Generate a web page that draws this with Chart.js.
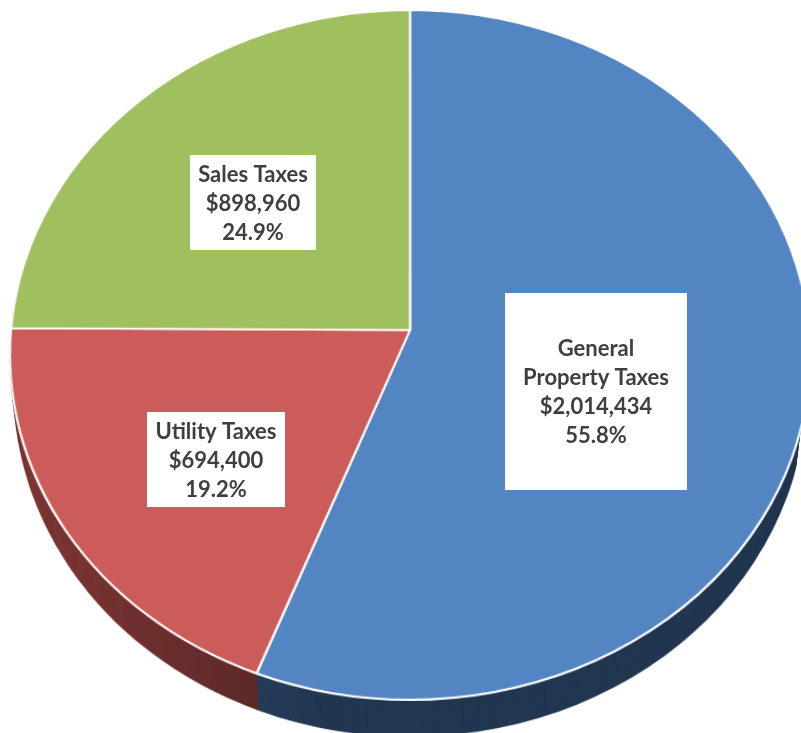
<!DOCTYPE html>
<html>
<head>
<meta charset="utf-8">
<script src="https://cdn.jsdelivr.net/npm/chart.js@4.4.1/dist/chart.umd.min.js"></script>
<style>
  html, body { margin: 0; padding: 0; background: #ffffff; }
  #wrap { width: 801px; height: 733px; position: relative; overflow: hidden; }
</style>
</head>
<body>
<div id="wrap"><canvas id="c" width="801" height="733"></canvas></div>
<script>
// ---- data ----
const categories = ['General Property Taxes', 'Utility Taxes', 'Sales Taxes'];
const labelLines = [['General', 'Property Taxes'], ['Utility Taxes'], ['Sales Taxes']];
const values = [2014434, 694400, 898960];

// ---- styles ----
const topColors = ['#5385C2', '#CB5C59', '#A0BF5E'];
const labelBoxes = [
  { x: 505, y: 293, w: 182, h: 197 },
  { x: 147, y: 412, w: 138, h: 95 },
  { x: 190, y: 155, w: 126, h: 95 }
];
const view = { cx: 410, cy: 330, A: 399, B: 343, c: 0.0725, depth: 37, shrink: 0.012 };

function shade(hex, f) {
  const n = parseInt(hex.slice(1), 16);
  const r = Math.round(((n >> 16) & 255) * f), g = Math.round(((n >> 8) & 255) * f), b = Math.round((n & 255) * f);
  return 'rgb(' + r + ',' + g + ',' + b + ')';
}
const sideColors = topColors.map(c => shade(c, 0.65));

function withOptions(arc, over) {
  const orig = arc.options;
  const o = Object.assign({}, orig);
  ['backgroundColor','borderColor','borderWidth','borderAlign','borderJoinStyle','borderDash',
   'borderDashOffset','offset','spacing','circular','borderRadius','selfJoin'].forEach(k => {
    if (!(k in o) && orig[k] !== undefined) o[k] = orig[k];
  });
  Object.assign(o, over);
  arc.options = o;
  return orig;
}

function drawArcs(meta, ctx, overFn) {
  meta.data.forEach((arc, i) => {
    if (overFn) {
      const orig = withOptions(arc, overFn(i));
      arc.draw(ctx);
      arc.options = orig;
    } else {
      arc.draw(ctx);
    }
  });
}

function project(src, dst, arc, P) {
  const W = src.width, H = src.height;
  const R = arc.outerRadius;
  const top = Math.floor(P.cy - P.B / (1 + P.c)) - 3;
  const bot = Math.ceil(P.cy + P.B / (1 - P.c)) + 3;
  const dctx = dst.getContext('2d');
  for (let y = top; y <= bot; y++) {
    const t = y + 0.5 - P.cy;
    const v = t / (P.B + P.c * t);
    const sy = arc.y + v * R;
    const sh = R * P.B / Math.pow(P.B + P.c * t, 2);
    const s0 = Math.max(0, sy - sh / 2), s1 = Math.min(H, sy + sh / 2);
    if (s1 - s0 <= 0.01) continue;
    const scale = P.A / (1 - P.c * v) / R;
    dctx.drawImage(src, 0, s0, W, s1 - s0, P.cx - arc.x * scale, y, W * scale, 1);
  }
}

function makeCanvas(w, h) {
  const cv = document.createElement('canvas');
  cv.width = w; cv.height = h;
  return cv;
}

const pie3d = {
  id: 'pie3d',
  beforeDatasetsDraw(chart) {
    const meta = chart.getDatasetMeta(0);
    const W = chart.canvas.width, H = chart.canvas.height;
    const arc0 = meta.data[0];

    // side (extrusion) surface
    const o1 = makeCanvas(W, H);
    drawArcs(meta, o1.getContext('2d'), i => ({ backgroundColor: sideColors[i], borderWidth: 0 }));
    const t1 = makeCanvas(W, H);
    project(o1, t1, arc0, view);
    const s = makeCanvas(W, H);
    const sctx = s.getContext('2d');
    for (let k = view.depth; k >= 1; k--) {
      const f = 1 - view.shrink * k / view.depth;
      sctx.setTransform(f, 0, 0, 1, view.cx * (1 - f), k);
      sctx.drawImage(t1, 0, 0);
    }
    sctx.setTransform(1, 0, 0, 1, 0, 0);
    sctx.globalCompositeOperation = 'source-atop';
    const g = sctx.createLinearGradient(0, 0, 320, 0);
    g.addColorStop(0, 'rgba(0,0,0,0)');
    g.addColorStop(1, 'rgba(0,0,0,0.36)');
    sctx.fillStyle = g;
    sctx.fillRect(0, 0, W, H);

    // top face
    const o2 = makeCanvas(W, H);
    drawArcs(meta, o2.getContext('2d'), null);
    const t2 = makeCanvas(W, H);
    project(o2, t2, arc0, view);

    const ctx = chart.ctx;
    ctx.save();
    ctx.setTransform(1, 0, 0, 1, 0, 0);
    ctx.drawImage(s, 0, 0);
    ctx.drawImage(t2, 0, 0);
    ctx.restore();
    return false;
  },
  afterDraw(chart) {
    const ctx = chart.ctx;
    const total = values.reduce((a, b) => a + b, 0);
    ctx.save();
    ctx.font = 'bold 22px Lato';
    ctx.textAlign = 'center';
    ctx.textBaseline = 'middle';
    values.forEach((v, i) => {
      const b = labelBoxes[i];
      ctx.fillStyle = '#ffffff';
      ctx.fillRect(b.x, b.y, b.w, b.h);
      const lines = labelLines[i].concat(['$' + v.toLocaleString('en-US'), (v / total * 100).toFixed(1) + '%']);
      const lh = 29;
      const cx = b.x + b.w / 2, cy = b.y + b.h / 2;
      ctx.fillStyle = '#3f3f3f';
      lines.forEach((ln, j) => {
        ctx.fillText(ln, cx, cy + (j - (lines.length - 1) / 2) * lh + 1);
      });
    });
    ctx.restore();
  }
};

new Chart(document.getElementById('c'), {
  type: 'pie',
  data: {
    labels: categories,
    datasets: [{
      data: values,
      backgroundColor: topColors,
      borderColor: '#ffffff',
      borderWidth: 2
    }]
  },
  options: {
    responsive: false,
    animation: false,
    devicePixelRatio: 1,
    layout: { padding: 4 },
    plugins: { legend: { display: false }, tooltip: { enabled: false }, title: { display: false } }
  },
  plugins: [pie3d]
});
</script>
</body>
</html>
